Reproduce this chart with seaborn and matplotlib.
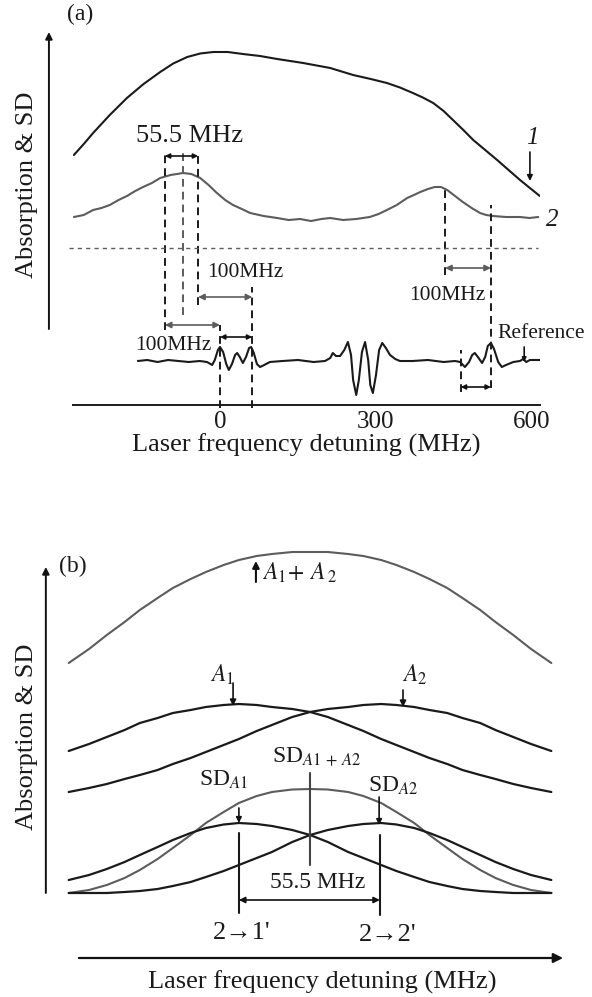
import matplotlib.pyplot as plt
import seaborn as sns

sns.set_style("white")
plt.rcParams['font.family'] = ['Liberation Serif', 'DejaVu Serif']
plt.rcParams['mathtext.fontset'] = 'stix'

# ---- panel (a): measured traces (x = detuning in MHz, y = signal, arb. units)
curve1_mhz = [-281, -262, -244, -212, -179, -147, -115, -90, -63, -38, -13, 15, 44, 77, 110, 160,
              212, 256, 290, 321, 346, 371, 390, 410, 430, 448, 468, 487, 510, 533, 555, 577, 596, 615]
curve1_sig = [250, 261, 272, 290, 307, 321, 333, 341.5, 348, 351.5, 353, 353, 351, 349, 346, 342,
              337, 330, 326, 322, 317.5, 312, 307.5, 302, 294, 285, 275, 265, 255, 245, 235, 225, 217, 209]

curve2_mhz = [-281, -262, -244, -228, -212, -195, -179, -163, -148, -131,
              -115, -95, -71, -55, -38, -22, -6, 10, 25, 42,
              58, 84, 110, 132, 154, 175, 195, 212, 237, 262,
              288, 305, 321, 340, 360, 373, 385, 400, 413, 425,
              437, 452, 467, 484, 500, 512, 525, 550, 577, 595, 612]
curve2_sig = [188, 190, 195, 197, 200, 205, 209, 214, 218, 222,
              227, 230, 232, 231, 227, 220, 212, 205, 200, 196,
              192, 189, 187, 185, 186, 184, 186, 187, 185, 186,
              188, 191, 195, 200, 207, 210, 213, 216, 218, 218,
              215, 209, 203, 197, 192, 190, 189, 188, 188, 187, 188]

sd_mhz = [-158, -140, -120, -100, -80, -60, -39, -25, -15, -10,
          -4, 0, 6, 12, 17, 23, 29, 33, 38, 44,
          50, 56, 60, 65, 71, 77, 85, 96, 120, 150,
          180, 202, 212, 217, 223, 231, 239, 246, 252, 256,
          262, 267, 273, 279, 285, 289, 294, 300, 306, 312,
          319, 327, 337, 346, 370, 400, 430, 452, 462, 471,
          479, 485, 490, 496, 504, 510, 515, 521, 527, 535,
          542, 550, 564, 577, 583, 589, 596, 615]
sd_sig = [44, 45, 43, 45, 44, 43, 44, 43, 40, 45,
          55, 58, 53, 41, 35, 41, 50, 52, 48, 42,
          48, 57, 58, 52, 41, 38, 40, 43, 44, 45,
          43, 44, 47, 52, 49, 49, 55, 63, 50, 25,
          10, 25, 53, 63, 45, 20, 12, 30, 55, 62,
          57, 50, 46, 44, 44, 45, 43, 44, 43, 38,
          43, 50, 52, 48, 42, 48, 59, 62, 56, 43,
          38, 40, 43, 44, 46, 43, 45, 45]

a_ticks = [-150, 0, 150, 300, 450, 600]
a_ticklabels = ['', '0', '', '300', '', '600']

# ---- panel (b): schematic profiles
b_x = [-95, -87, -80, -73, -67, -60, -54, -47, -41, -34, -28, -21, -15, -7, 0,
       7, 15, 21, 28, 34, 41, 47, 54, 60, 67, 73, 80, 87, 95]
b_sum = [297, 311, 325, 338, 350, 362, 372, 381, 388, 395, 400, 404, 406, 408, 408,
         408, 406, 404, 400, 395, 388, 381, 372, 362, 350, 338, 325, 311, 297]
b_a1 = [209, 216, 223, 230, 237, 242, 247, 250, 253, 255, 256, 255, 253, 251, 248,
        243, 235, 229, 221, 215, 208, 202, 196, 190, 185, 181, 176, 172, 168]
b_a2 = b_a1[::-1]
b_sd_sum = [67, 70, 75, 82, 90, 101, 112, 125, 137, 148, 157, 164, 168, 170.5, 171,
            170.5, 168, 164, 157, 148, 137, 125, 112, 101, 90, 82, 75, 70, 67]
b_sd_a1 = [80, 85, 91, 98, 105, 113, 120, 127, 132, 135.5, 137, 136, 134, 130, 125,
           118, 108, 102, 95, 89, 83, 78, 74, 71, 69, 68, 67, 67, 67]
b_sd_a2 = b_sd_a1[::-1]

W, H = 592, 997
fig = plt.figure(figsize=(W / 100, H / 100), dpi=100)


def px_axes(x0, y0, x1, y1):
    return fig.add_axes([x0 / W, 1 - y1 / H, (x1 - x0) / W, (y1 - y0) / H])


def arrow(ax, x0, y0, x1, y1, style='-|>', color='#111111', lw=1.2, ms=9):
    ax.annotate('', xy=(x1, y1), xytext=(x0, y0), annotation_clip=False,
                arrowprops=dict(arrowstyle=style, color=color, lw=lw,
                                mutation_scale=ms, shrinkA=0, shrinkB=0))


BLACK = '#1a1a1a'
GRAY = '#5c5c5c'
DASH = (0, (4, 2.6))

# ================= panel (a)
ax = px_axes(73, 30, 540, 405)
ax.set_xlim(-282.7, 615.4)
ax.set_ylim(0, 375)

sns.lineplot(x=curve1_mhz, y=curve1_sig, ax=ax, color=BLACK, lw=1.5, sort=False, estimator=None)
sns.lineplot(x=curve2_mhz, y=curve2_sig, ax=ax, color=GRAY, lw=1.5, sort=False, estimator=None)
sns.lineplot(x=sd_mhz, y=sd_sig, ax=ax, color=BLACK, lw=1.5, sort=False, estimator=None)

for s in ['top', 'right', 'left']:
    ax.spines[s].set_visible(False)
ax.spines['bottom'].set_linewidth(1.4)
ax.spines['bottom'].set_color(BLACK)
ax.set_yticks([])
ax.set_xticks(a_ticks)
ax.set_xticklabels(a_ticklabels, fontsize=18)
ax.tick_params(axis='x', direction='in', length=5, width=1.2, pad=4, colors=BLACK)
ax.set_xlabel('Laser frequency detuning (MHz)', fontsize=19, labelpad=1, color=BLACK)

# vertical dashed markers
for xm, top, bot, col in [(-106, 250, 75, BLACK), (-71, 253, 90, GRAY), (-42, 250, 100, BLACK),
                          (0, 80, -3, BLACK), (62, 118, -3, BLACK), (433, 215, 130, BLACK),
                          (521, 200, 17, BLACK), (463, 55, 13, BLACK)]:
    ax.plot([xm, xm], [bot, top], color=col, lw=1.4, ls=DASH, clip_on=False)
ax.plot([-290, 611], [157, 157], color=GRAY, lw=1.0, ls=(0, (3, 3)), clip_on=False)

arrow(ax, -106, 249, -42, 249, style='<|-|>', ms=7)
arrow(ax, -42, 108, 62, 108, style='<|-|>', color=GRAY, ms=9)
arrow(ax, -106, 80, 0, 80, style='<|-|>', color=GRAY, ms=9)
arrow(ax, 0, 68, 62, 68, style='<|-|>', ms=7)
arrow(ax, 433, 137, 521, 137, style='<|-|>', color=GRAY, ms=9)
arrow(ax, 463, 18, 521, 18, style='<|-|>', ms=7)
arrow(ax, 585, 58, 585, 43, ms=6)
arrow(ax, 596, 253, 596, 224, ms=8)
arrow(ax, -329, 76, -329, 373, ms=10, lw=1.4)

ax.text(-58, 269, '55.5 MHz', fontsize=19, ha='center', va='center', color=BLACK)
ax.text(48, 133, '100MHz', fontsize=15.5, ha='center', va='center', color=BLACK)
ax.text(-90, 60, '100MHz', fontsize=15.5, ha='center', va='center', color=BLACK)
ax.text(437, 110, '100MHz', fontsize=15.5, ha='center', va='center', color=BLACK)
ax.text(617, 72, 'Reference', fontsize=15.5, ha='center', va='center', color=BLACK, clip_on=False)
ax.text(600, 267, '1', fontsize=18, style='italic', ha='center', va='center', color=BLACK)
ax.text(638, 185, '2', fontsize=18, style='italic', ha='center', va='center', color=BLACK, clip_on=False)

# ================= panel (b)
bx = px_axes(40, 540, 592, 997)
bx.set_xlim(-106.3, 111.0)
bx.set_ylim(-37, 420)
bx.axis('off')

sns.lineplot(x=b_x, y=b_sum, ax=bx, color=GRAY, lw=1.5, sort=False, estimator=None)
sns.lineplot(x=b_x, y=b_a1, ax=bx, color=BLACK, lw=1.6, sort=False, estimator=None)
sns.lineplot(x=b_x, y=b_a2, ax=bx, color=BLACK, lw=1.6, sort=False, estimator=None)
sns.lineplot(x=b_x, y=b_sd_sum, ax=bx, color=GRAY, lw=1.5, sort=False, estimator=None)
sns.lineplot(x=b_x, y=b_sd_a1, ax=bx, color=BLACK, lw=1.6, sort=False, estimator=None)
sns.lineplot(x=b_x, y=b_sd_a2, ax=bx, color=BLACK, lw=1.6, sort=False, estimator=None)

bx.plot([0, 0], [95, 187], color='#444444', lw=1.5)
bx.plot([-28, -28], [47, 127], color=BLACK, lw=1.5)
bx.plot([27.5, 27.5], [45, 125], color=BLACK, lw=1.5)
arrow(bx, -28, 60, 27.5, 60, style='<|-|>', ms=9)
arrow(bx, -21.3, 378, -21.3, 399, ms=10, lw=1.5)
arrow(bx, -30.3, 277, -30.3, 254, ms=9)
arrow(bx, 36.6, 270, 36.6, 253, ms=9)
arrow(bx, -28, 152, -28, 137, ms=8)
arrow(bx, 27.2, 163, 27.2, 135, ms=8)
arrow(bx, -91, 2, 99.6, 2, ms=14, lw=1.6)
arrow(bx, -104, 67, -104, 393, ms=10, lw=1.4)

bx.text(-18.9, 387, r'$A_1\!+\,A_{\;2}$', fontsize=17, ha='left', va='center', color=BLACK)
bx.text(-34.6, 285, r'$A_1$', fontsize=17, ha='center', va='center', color=BLACK)
bx.text(41.3, 285, r'$A_2$', fontsize=17, ha='center', va='center', color=BLACK)
bx.text(-34, 180, r'SD$_{A1}$', fontsize=17, ha='center', va='center', color=BLACK)
bx.text(32.7, 174, r'SD$_{A2}$', fontsize=17, ha='center', va='center', color=BLACK)
bx.text(2.4, 203, r'SD$_{A1\,+\,A2}$', fontsize=17, ha='center', va='center', color=BLACK)
bx.text(2.8, 78, '55.5 MHz', fontsize=17, ha='center', va='center', color=BLACK)
bx.text(-27, 27, "2\u21921'", fontsize=19, ha='center', va='center', color=BLACK)
bx.text(30.7, 25, "2\u21922'", fontsize=19, ha='center', va='center', color=BLACK)
bx.text(4.7, -22, 'Laser frequency detuning (MHz)', fontsize=19, ha='center', va='center', color=BLACK)

# ================= labels in figure space
fig.text(80 / W, 1 - 14 / H, '(a)', fontsize=17, ha='center', va='center', color=BLACK)
fig.text(73 / W, 1 - 566 / H, '(b)', fontsize=17, ha='center', va='center', color=BLACK)
fig.text(27 / W, 1 - 185 / H, 'Absorption & SD', fontsize=19, rotation=90, ha='center', va='center', color=BLACK)
fig.text(27 / W, 1 - 737 / H, 'Absorption & SD', fontsize=19, rotation=90, ha='center', va='center', color=BLACK)

fig.savefig('out.png', dpi=100)
